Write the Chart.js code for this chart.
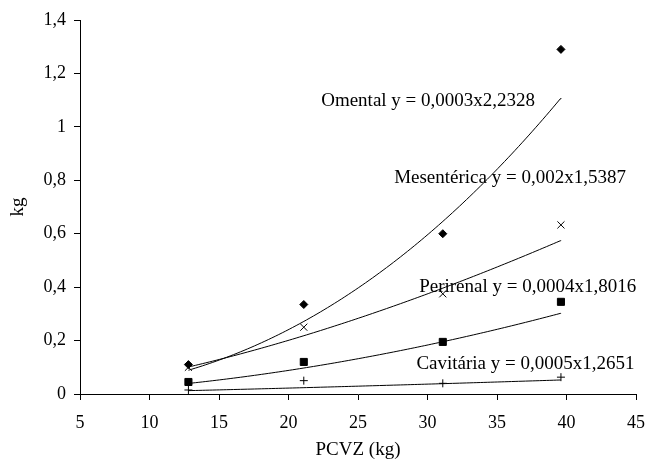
<!DOCTYPE html>
<html>
<head>
<meta charset="utf-8">
<script src="https://cdn.jsdelivr.net/npm/chart.js@4"></script>
<style>
  html, body { margin: 0; padding: 0; background: #fff; }
  #wrap { width: 648px; height: 470px; }
</style>
</head>
<body>
<div id="wrap"><canvas id="tissueChart"></canvas></div>
<script>
// body weight (PCVZ, kg) of each group
const pcvz = [12.8, 21.1, 31.1, 39.6];

// fat depot weights (kg)
const omental = [0.11, 0.335, 0.60, 1.29];
const mesenterica = [0.10, 0.25, 0.375, 0.633];
const perirenal = [0.045, 0.12, 0.195, 0.345];
const cavitaria = [0.015, 0.05, 0.04, 0.063];

// power fits y = a * x^b
const fitA = [0.0003, 0.002, 0.0004, 0.0005];
const fitB = [2.2328, 1.5387, 1.8016, 1.2651];
const eqText = [
  'Omental y = 0,0003x2,2328',
  'Mesentérica y = 0,002x1,5387',
  'Perirenal y = 0,0004x1,8016',
  'Cavitária y = 0,0005x1,2651'
];
// where each equation sits (in axis units)
const eqPos = [[22.35, 1.096], [27.6, 0.81], [29.4, 0.40], [29.2, 0.112]];

const serif = "'Liberation Serif', 'Times New Roman', serif";
Chart.defaults.font.family = serif;
Chart.defaults.font.size = 18;
Chart.defaults.color = '#000';

function pts(ys) {
  return pcvz.map((x, i) => ({ x: x, y: ys[i] }));
}

function fitCurve(k) {
  const out = [];
  const x0 = pcvz[0], x1 = pcvz[pcvz.length - 1];
  for (let x = x0; x < x1; x += 0.25) out.push({ x: x, y: fitA[k] * Math.pow(x, fitB[k]) });
  out.push({ x: x1, y: fitA[k] * Math.pow(x1, fitB[k]) });
  return out;
}

function marker(data, style, radius) {
  return {
    type: 'scatter',
    data: data,
    pointStyle: style,
    pointRadius: radius,
    pointBackgroundColor: '#000',
    pointBorderColor: '#000',
    pointBorderWidth: 1
  };
}

function trend(k) {
  return {
    type: 'line',
    data: fitCurve(k),
    borderColor: '#000',
    borderWidth: 1,
    pointRadius: 0,
    fill: false,
    tension: 0
  };
}

const eqLabels = {
  id: 'eqLabels',
  afterDatasetsDraw(chart) {
    const { ctx, scales: { x, y } } = chart;
    ctx.save();
    ctx.font = '19px ' + serif;
    ctx.fillStyle = '#000';
    ctx.textAlign = 'left';
    ctx.textBaseline = 'middle';
    eqText.forEach((t, i) => {
      ctx.fillText(t, x.getPixelForValue(eqPos[i][0]), y.getPixelForValue(eqPos[i][1]));
    });
    ctx.restore();
  }
};

const axisGrid = {
  display: true,
  drawOnChartArea: false,
  drawTicks: true,
  tickLength: 6,
  color: '#000'
};

new Chart(document.getElementById('tissueChart'), {
  data: {
    datasets: [
      trend(0), trend(1), trend(2), trend(3),
      marker(pts(omental), 'rectRot', 4),
      marker(pts(mesenterica), 'crossRot', 5),
      marker(pts(perirenal), 'rect', 5),
      marker(pts(cavitaria), 'cross', 4)
    ]
  },
  options: {
    responsive: true,
    maintainAspectRatio: false,
    animation: false,
    layout: { padding: { top: 20, right: 12, left: 0, bottom: 0 } },
    plugins: {
      legend: { display: false },
      tooltip: { enabled: false }
    },
    scales: {
      x: {
        type: 'linear',
        min: 5,
        max: 45,
        ticks: { stepSize: 5, padding: 12 },
        grid: axisGrid,
        border: { color: '#000', width: 1 },
        title: { display: true, text: 'PCVZ (kg)', font: { size: 19 }, padding: { top: 0, bottom: 9 } },
        afterFit(s) {
          s.height = 76;
          s.paddingLeft = 0;
          s.paddingRight = 0;
        }
      },
      y: {
        type: 'linear',
        min: 0,
        max: 1.4,
        ticks: {
          stepSize: 0.2,
          padding: 8,
          callback: v => String(+v.toFixed(1)).replace('.', ',')
        },
        grid: axisGrid,
        border: { color: '#000', width: 1 },
        title: { display: true, text: 'kg', font: { size: 19 }, padding: { top: 7, bottom: 0 } },
        afterFit(s) {
          s.width = 80;
          s.paddingTop = 0;
          s.paddingBottom = 0;
        }
      }
    }
  },
  plugins: [eqLabels]
});
</script>
</body>
</html>
